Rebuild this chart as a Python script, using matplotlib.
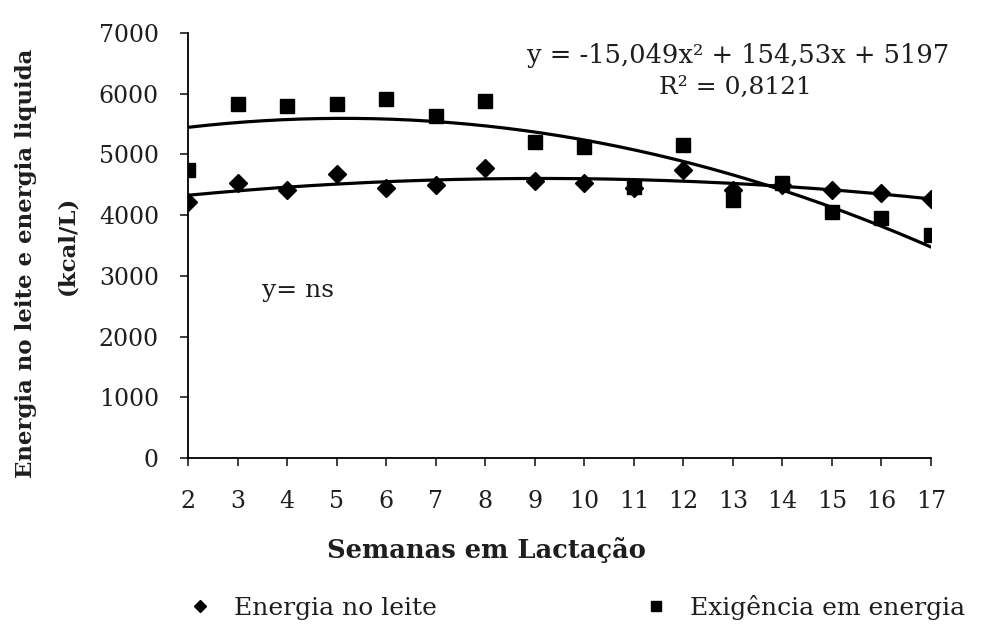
import numpy as np
import matplotlib
matplotlib.use("Agg")
import matplotlib.pyplot as plt

# weeks of lactation
semanas = [2, 3, 4, 5, 6, 7, 8, 9, 10, 11, 12, 13, 14, 15, 16, 17]
# milk energy (diamonds)
energia_leite = [4210, 4530, 4410, 4670, 4450, 4490, 4780, 4570,
                 4530, 4450, 4740, 4420, 4500, 4420, 4370, 4260]
# energy requirement (squares)
exigencia = [4750, 5830, 5790, 5830, 5910, 5640, 5880, 5200,
             5120, 4460, 5160, 4250, 4530, 4050, 3950, 3670]
# fitted quadratic shown on the chart (x^2, x, const)
coef_exig = [-15.049, 154.53, 5197]

plt.rcParams['font.family'] = ['DejaVu Serif']
txt = '#1e1e1e'

fig = plt.figure(figsize=(9.81, 6.28), dpi=100)
ax = fig.add_axes([0.1917, 0.2707, 0.7573, 0.6768])

xs = np.linspace(semanas[0], semanas[-1], 200)
ax.plot(xs, np.polyval(coef_exig, xs), color='black', lw=2.3, zorder=2)
coef_leite = np.polyfit(semanas, energia_leite, 2)
ax.plot(xs, np.polyval(coef_leite, xs), color='black', lw=2.3, zorder=2)

h1, = ax.plot(semanas, energia_leite, 'D', color='black', ms=9, ls='none', zorder=3)
h2, = ax.plot(semanas, exigencia, 's', color='black', ms=10, ls='none', zorder=3)

ax.set_xlim(2, 17)
ax.set_ylim(0, 7000)
ax.set_xticks(semanas)
ax.set_yticks(range(0, 7001, 1000))
ax.spines['top'].set_visible(False)
ax.spines['right'].set_visible(False)
ax.spines['left'].set_linewidth(1.3)
ax.spines['bottom'].set_linewidth(1.3)
ax.tick_params(axis='x', direction='out', length=6, width=1.2, pad=17, labelsize=17, colors=txt)
ax.tick_params(axis='y', direction='out', length=6, width=1.2, pad=15, labelsize=17, colors=txt)

ax.text(1.025, 0.948, 'y = -15,049x² + 154,53x + 5197', transform=ax.transAxes,
        ha='right', va='center', fontsize=18.5, color=txt)
ax.text(0.737, 0.871, 'R² = 0,8121', transform=ax.transAxes,
        ha='center', va='center', fontsize=18, color=txt)
ax.text(0.099, 0.395, 'y= ns', transform=ax.transAxes,
        ha='left', va='center', fontsize=18, color=txt)

fig.text(0.496, 0.124, 'Semanas em Lactação', ha='center', va='center',
         fontsize=18.5, fontweight='bold', color=txt)
fig.text(0.026, 0.581, 'Energia no leite e energia liquida', rotation=90,
         ha='center', va='center', fontsize=16.5, fontweight='bold', color=txt)
fig.text(0.069, 0.61, '(kcal/L)', rotation=90,
         ha='center', va='center', fontsize=16.5, fontweight='bold', color=txt)

leg = fig.legend([h1, h2], ['Energia no leite', 'Exigência em energia'],
                 loc='center left', bbox_to_anchor=(0.191, 0.0334), ncol=2,
                 frameon=False, fontsize=18, columnspacing=8.3, handlelength=1.0,
                 handletextpad=0.85, borderpad=0, borderaxespad=0, markerscale=0.7)
for t in leg.get_texts():
    t.set_color(txt)

fig.savefig('out.png', dpi=100)
